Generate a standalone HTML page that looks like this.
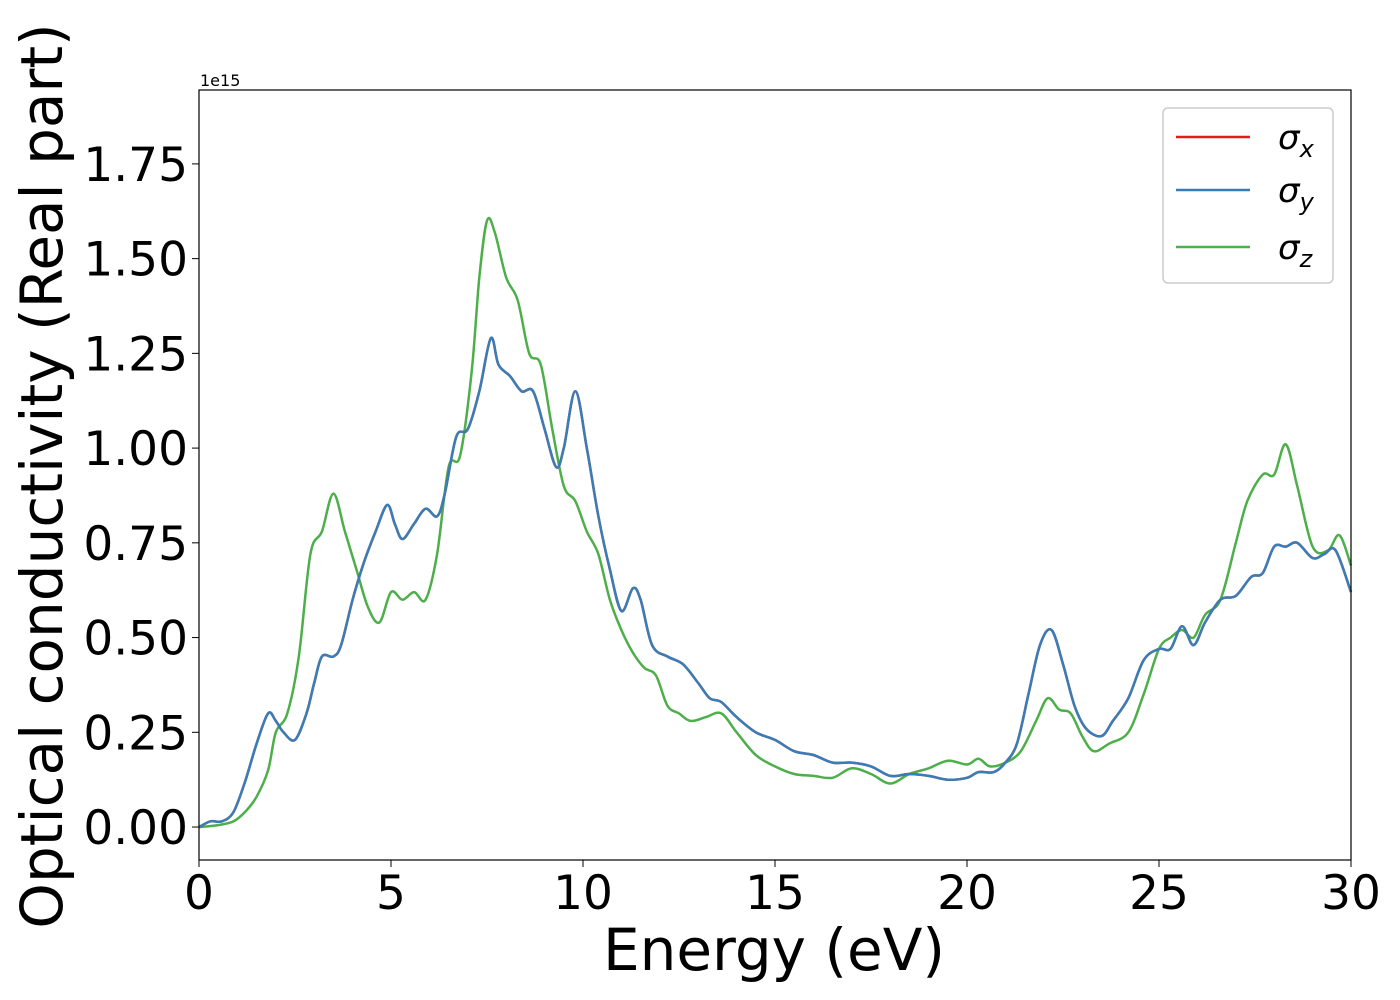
<!DOCTYPE html>
<html><head><meta charset="utf-8"><style>
body{margin:0;background:#fff;}
svg{display:block;font-family:"DejaVu Sans","Liberation Sans",sans-serif;}
</style></head><body>
<svg id="chart" width="1400" height="1000" viewBox="0 0 1400 1000">
<rect x="0" y="0" width="1400" height="1000" fill="#fff"/>
<g id="plot"></g>
<g id="axes"></g>
<text x="200" y="86" font-size="16">1e15</text>
<text x="774" y="970" font-size="58" text-anchor="middle">Energy (eV)</text>
<text transform="translate(62,476) rotate(-90)" font-size="58" text-anchor="middle">Optical conductivity (Real part)</text>
<g>
<rect x="1163" y="108" width="170" height="175" rx="5" fill="#fff" stroke="#ccc" stroke-width="1.5"/>
<line x1="1176" y1="137" x2="1250" y2="137" stroke="#e41a1c" stroke-width="2.5"/>
<text x="1278" y="149" font-size="34" font-style="italic">σ<tspan font-size="24" dy="8">x</tspan></text>
<line x1="1176" y1="190" x2="1250" y2="190" stroke="#377eb8" stroke-width="2.5"/>
<text x="1278" y="202" font-size="34" font-style="italic">σ<tspan font-size="24" dy="8">y</tspan></text>
<line x1="1176" y1="247" x2="1250" y2="247" stroke="#4daf4a" stroke-width="2.5"/>
<text x="1278" y="259" font-size="34" font-style="italic">σ<tspan font-size="24" dy="8">z</tspan></text>
</g>
</svg>
<script>
const xyEnergy=[0,0.3,0.6,0.9,1.2,1.5,1.8,2.0,2.2,2.5,2.8,3.0,3.2,3.5,3.7,4.0,4.3,4.6,4.9,5.1,5.3,5.6,5.9,6.2,6.4,6.7,7.0,7.3,7.6,7.8,8.1,8.4,8.7,9.0,9.3,9.5,9.8,10.1,10.4,10.7,11.0,11.3,11.5,11.8,12.2,12.6,13.0,13.3,13.6,14.0,14.5,15.0,15.5,16.0,16.5,17.0,17.5,18.0,18.5,19.0,19.5,20.0,20.3,20.7,21.0,21.3,21.6,21.9,22.2,22.5,22.8,23.1,23.5,23.8,24.2,24.6,25.0,25.3,25.6,25.9,26.2,26.6,27.0,27.4,27.7,28.0,28.3,28.6,29.0,29.3,29.6,30];
const sigmaXY=[0,0.015,0.015,0.04,0.12,0.22,0.3,0.28,0.25,0.23,0.3,0.38,0.45,0.45,0.48,0.6,0.7,0.78,0.85,0.8,0.76,0.8,0.84,0.82,0.88,1.03,1.05,1.15,1.29,1.22,1.19,1.15,1.15,1.05,0.95,1.0,1.15,1.0,0.82,0.68,0.57,0.63,0.6,0.48,0.45,0.43,0.38,0.34,0.33,0.29,0.25,0.23,0.2,0.19,0.17,0.17,0.16,0.135,0.14,0.135,0.125,0.13,0.145,0.145,0.17,0.22,0.35,0.48,0.52,0.43,0.32,0.26,0.24,0.28,0.34,0.44,0.47,0.47,0.53,0.48,0.54,0.6,0.61,0.66,0.67,0.74,0.74,0.75,0.71,0.72,0.73,0.62];
const zEnergy=[0,0.5,0.9,1.2,1.5,1.8,2.0,2.3,2.6,2.9,3.2,3.5,3.8,4.1,4.4,4.7,5.0,5.3,5.6,5.9,6.2,6.5,6.8,7.1,7.3,7.5,7.7,8.0,8.3,8.6,8.9,9.2,9.5,9.8,10.1,10.4,10.7,11.0,11.3,11.6,11.9,12.2,12.5,12.8,13.2,13.6,14.0,14.5,15.0,15.5,16.0,16.5,17.0,17.5,18.0,18.5,19.0,19.5,20.0,20.3,20.6,21.0,21.4,21.8,22.1,22.4,22.7,23.0,23.3,23.7,24.2,24.6,25.0,25.3,25.6,25.9,26.2,26.6,27.0,27.3,27.7,28.0,28.3,28.6,29.0,29.4,29.7,30];
const sigmaZ=[0,0.005,0.015,0.04,0.08,0.15,0.25,0.3,0.45,0.72,0.78,0.88,0.78,0.68,0.58,0.54,0.62,0.6,0.62,0.6,0.72,0.95,0.98,1.2,1.45,1.6,1.57,1.45,1.39,1.25,1.22,1.05,0.9,0.86,0.78,0.72,0.6,0.52,0.46,0.42,0.4,0.32,0.3,0.28,0.29,0.3,0.25,0.19,0.16,0.14,0.135,0.13,0.155,0.14,0.115,0.14,0.155,0.175,0.165,0.18,0.16,0.17,0.2,0.28,0.34,0.31,0.3,0.24,0.2,0.22,0.25,0.35,0.47,0.5,0.52,0.5,0.56,0.6,0.75,0.86,0.93,0.93,1.01,0.9,0.74,0.73,0.77,0.69];
const xTicks=[0,5,10,15,20,25,30];
const yTicks=[0,0.25,0.5,0.75,1.0,1.25,1.5,1.75];
const yTickLabels=["0.00","0.25","0.50","0.75","1.00","1.25","1.50","1.75"];

const L=199,R=1351,T=90,B=860,xMin=0,xMax=30,yMin=-0.087,yMax=1.945;
const sx=v=>L+(v-xMin)/(xMax-xMin)*(R-L);
const sy=v=>B-(v-yMin)/(yMax-yMin)*(B-T);
const NS="http://www.w3.org/2000/svg";
function pathD(xs,ys){
  const p=xs.map((x,i)=>[sx(x),sy(ys[i])]);
  let d="M"+p[0][0].toFixed(1)+","+p[0][1].toFixed(1);
  for(let i=0;i<p.length-1;i++){
    const p0=p[Math.max(0,i-1)],p1=p[i],p2=p[i+1],p3=p[Math.min(p.length-1,i+2)];
    const c1=[p1[0]+(p2[0]-p0[0])/6,p1[1]+(p2[1]-p0[1])/6];
    const c2=[p2[0]-(p3[0]-p1[0])/6,p2[1]-(p3[1]-p1[1])/6];
    d+=" C"+c1.map(v=>v.toFixed(1))+" "+c2.map(v=>v.toFixed(1))+" "+p2.map(v=>v.toFixed(1));
  }
  return d;
}
const plot=document.getElementById("plot");
const series=[[zEnergy,sigmaZ,"#4daf4a","series-sigma-z"],[xyEnergy,sigmaXY,"#e41a1c","series-sigma-x"],[xyEnergy,sigmaXY,"#377eb8","series-sigma-y"]];
series.forEach(s=>{
  const el=document.createElementNS(NS,"path");
  el.setAttribute("d",pathD(s[0],s[1]));
  el.setAttribute("fill","none");el.setAttribute("stroke",s[2]);el.setAttribute("stroke-width","2.5");
  
  
  plot.appendChild(el);
});
const axes=document.getElementById("axes");
const frame=document.createElementNS(NS,"rect");
frame.setAttribute("x",L);frame.setAttribute("y",T);frame.setAttribute("width",R-L);frame.setAttribute("height",B-T);
frame.setAttribute("fill","none");frame.setAttribute("stroke","#000");frame.setAttribute("stroke-width","1.2");


axes.appendChild(frame);
xTicks.forEach(v=>{
  const t=document.createElementNS(NS,"line");
  t.setAttribute("x1",sx(v));t.setAttribute("x2",sx(v));t.setAttribute("y1",B);t.setAttribute("y2",B+7);t.setAttribute("stroke","#000");
  
  
  axes.appendChild(t);
  const tx=document.createElementNS(NS,"text");
  tx.setAttribute("x",sx(v));tx.setAttribute("y",909);tx.setAttribute("font-size","47");tx.setAttribute("text-anchor","middle");
  tx.textContent=v;
  
  
  axes.appendChild(tx);
});
yTicks.forEach((v,i)=>{
  const t=document.createElementNS(NS,"line");
  t.setAttribute("x1",L-7);t.setAttribute("x2",L);t.setAttribute("y1",sy(v));t.setAttribute("y2",sy(v));t.setAttribute("stroke","#000");
  
  
  axes.appendChild(t);
  const tx=document.createElementNS(NS,"text");
  tx.setAttribute("x",188);tx.setAttribute("y",sy(v)+17);tx.setAttribute("font-size","47");tx.setAttribute("text-anchor","end");
  tx.textContent=yTickLabels[i];
  
  
  axes.appendChild(tx);
});
</script>
</body></html>
